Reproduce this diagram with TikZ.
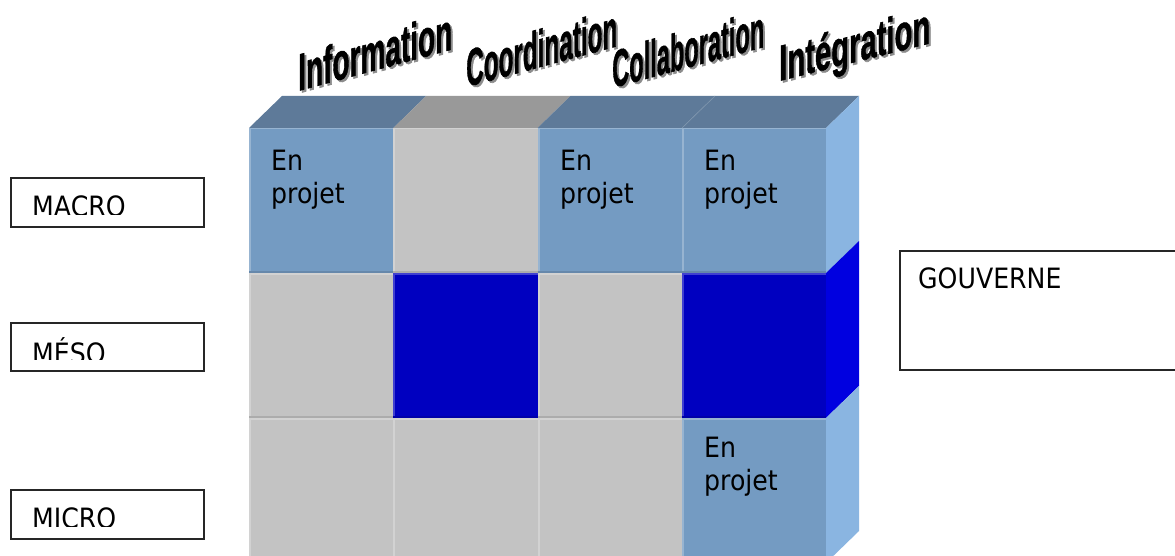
\documentclass[tikz,border=0pt]{standalone}
\usepackage{fontspec}
\setmainfont{DejaVu Sans}[FakeStretch=0.9]
\newfontfamily\hdrfont{Liberation Sans}[BoldFeatures={FakeBold=1.3}]
\definecolor{cellblue}{RGB}{116,155,194}
\definecolor{cellgrey}{RGB}{195,195,195}
\definecolor{celldark}{RGB}{0,0,192}
\definecolor{topblue}{RGB}{94,122,153}
\definecolor{topgrey}{RGB}{153,153,153}
\definecolor{sidelight}{RGB}{138,181,225}
\definecolor{sidedark}{RGB}{0,0,224}
\tikzset{
  celltxt/.style={align=left, inner sep=0pt, anchor=north west, font=\fontsize{28}{33}\selectfont},
  lbl/.style={inner sep=0pt, anchor=base west, font=\fontsize{28}{33}\selectfont},
  lblbox/.style={draw=black!85, line width=1.9pt, anchor=north west, inner sep=0pt},
  hdr/.style={inner sep=0pt, anchor=base west, font=\hdrfont\bfseries},
  hdrshadow/.style={hdr, text=black!45},
}
\begin{document}
\begin{tikzpicture}[x=1pt,y=-1pt]
\clip (0,0) rectangle (1175,556);
\fill[white] (0,0) rectangle (1175,556);
% front cells
\foreach \c/\r/\col in {0/0/cellblue,1/0/cellgrey,2/0/cellblue,3/0/cellblue,
                        0/1/cellgrey,1/1/celldark,2/1/cellgrey,3/1/celldark,
                        0/2/cellgrey,1/2/cellgrey,2/2/cellgrey,3/2/cellblue}{
  \pgfmathsetmacro\xa{249+144.25*\c}
  \pgfmathsetmacro\xb{249+144.25*(\c+1)}
  \pgfmathsetmacro\ya{128+145*\r}
  \pgfmathsetmacro\yb{128+145*(\r+1)}
  \fill[\col] (\xa,\ya) rectangle (\xb,\yb);
  \draw[\col!75!white, line width=2pt] (\xa+1,\ya) -- (\xa+1,\yb);
  \draw[\col!75!white, line width=1.5pt] (\xa,\ya+0.75) -- (\xb,\ya+0.75);
  \draw[\col!88!black, line width=2pt] (\xa,\yb-1) -- (\xb,\yb-1);
}
% top face
\foreach \c/\col in {0/topblue,1/topgrey,2/topblue,3/topblue}{
  \pgfmathsetmacro\xa{249+144.25*\c}
  \pgfmathsetmacro\xb{249+144.25*(\c+1)}
  \fill[\col] (\xa,128) -- (\xa+33,96) -- (\xb+33,96) -- (\xb,128) -- cycle;
}
\draw[topblue!80!white, line width=0.6pt] (682,128) -- (715,96);
% side face
\foreach \r/\col in {0/sidelight,1/sidedark,2/sidelight}{
  \pgfmathsetmacro\ya{128+145*\r}
  \pgfmathsetmacro\yb{128+145*(\r+1)}
  \fill[\col] (826,\ya) -- (859,\ya-32) -- (859,\yb-32) -- (826,\yb) -- cycle;
}
% cell texts
\node[celltxt] (t1) at (271,150) {En\\projet};
\node[celltxt] (t3) at (560,150) {En\\projet};
\node[celltxt] (t4) at (704,150) {En\\projet};
\node[celltxt] (t12) at (704,437) {En\\projet};
% column headers
\node[hdrshadow, yslant=0.27] (hInfoS) at (300,93) {\resizebox{154pt}{38pt}{Information}};
\node[hdr, yslant=0.27] (hInfo) at (298,91) {\resizebox{154pt}{38pt}{Information}};
\node[hdrshadow, yslant=0.27] (hCoorS) at (468,89) {\resizebox{151pt}{38pt}{Coordination}};
\node[hdr, yslant=0.27] (hCoor) at (466,87) {\resizebox{151pt}{38pt}{Coordination}};
\node[hdrshadow, yslant=0.27] (hCollS) at (614,90) {\resizebox{152pt}{38pt}{Collaboration}};
\node[hdr, yslant=0.27] (hColl) at (612,88) {\resizebox{152pt}{38pt}{Collaboration}};
\node[hdrshadow, yslant=0.25] (hIntS) at (781,83) {\resizebox{151pt}{37pt}{Intégration}};
\node[hdr, yslant=0.25] (hInt) at (779,81) {\resizebox{151pt}{37pt}{Intégration}};
% level boxes
\node[lblbox, minimum width=193pt, minimum height=49pt] (macrobox) at (10,177) {};
\node[lblbox, minimum width=193pt, minimum height=48pt] (mesobox) at (10,322) {};
\node[lblbox, minimum width=193pt, minimum height=49pt] (microbox) at (10,489) {};
\begin{scope}
  \clip (12,179) rectangle (201,215);
  \node[lbl] (macro) at (32,216.5) {MACRO};
\end{scope}
\begin{scope}
  \clip (12,324) rectangle (201,359);
  \node[lbl] (meso) at (32,363.5) {MÉSO};
\end{scope}
\begin{scope}
  \clip (12,491) rectangle (201,526);
  \node[lbl] (micro) at (32,528.5) {MICRO};
\end{scope}
% gouverne box
\node[lblbox, minimum width=300pt, minimum height=119pt] (gbox) at (899,250) {};
\node[lbl] (gouv) at (918,288.5) {GOUVERNE};
\end{tikzpicture}
\end{document}
